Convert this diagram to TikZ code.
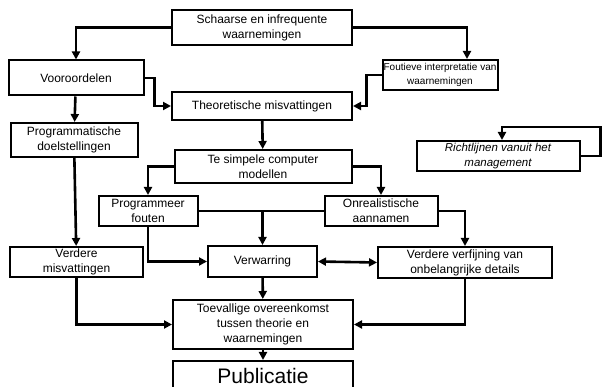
\documentclass[tikz,border=0pt]{standalone}
\usepackage{fontspec}
\setmainfont{Liberation Sans}
\usetikzlibrary{arrows.meta}

\begin{document}
\begin{tikzpicture}[x=1pt,y=-1pt,
    box/.style={draw,line width=2pt,align=center,inner sep=1pt,
      font=\fontsize{12}{15}\selectfont},
    flow/.style={line width=2.6pt,-{Triangle[length=8pt,width=8pt]}},
    twoway/.style={line width=2.6pt,{Triangle[length=8pt,width=8pt]}-{Triangle[length=8pt,width=8pt]}},
    plain/.style={line width=2.6pt}]
        \useasboundingbox (0,0) rectangle (603,387);
        % top row
        \node[box,minimum width=180,minimum height=35] (schaars) at (262,27.5) {Schaarse en infrequente\\waarnemingen};
        \node[box,minimum width=135,minimum height=35] (voor) at (76,78) {Vooroordelen};
        \node[box,minimum width=115,minimum height=30,inner sep=0pt,font=\fontsize{10}{14}\selectfont] (fout) at (440,75) {Foutieve interpretatie van\\waarnemingen};
        \node[box,minimum width=180,minimum height=28] (theo) at (262,106) {Theoretische misvattingen};
        % middle
        \node[box,minimum width=127,minimum height=34] (progdoel) at (74,140) {Programmatische\\doelstellingen};
        \node[box,minimum width=177,minimum height=33] (simpel) at (263,166.5) {Te simpele computer\\modellen};
        \node[box,minimum width=163,minimum height=30,font=\fontsize{11.5}{15}\selectfont\itshape] (richt) at (498,156) {Richtlijnen vanuit het\\management};
        \node[box,minimum width=99,minimum height=30] (prog) at (148,211) {Programmeer\\fouten};
        \node[box,minimum width=113,minimum height=30] (onreal) at (381,211) {Onrealistische\\aannamen};
        \node[box,minimum width=133,minimum height=30] (misv) at (76.5,262) {Verdere\\misvattingen};
        \node[box,minimum width=109,minimum height=31] (verw) at (262.5,261.5) {Verwarring};
        \node[box,minimum width=174,minimum height=31] (verf) at (465,262.5) {Verdere verfijning van\\onbelangrijke details};
        % bottom
        \node[box,minimum width=180,minimum height=49] (toev) at (263,324.5) {Toevallige overeenkomst\\tussen theorie en\\waarnemingen};
        \node[box,minimum width=180,minimum height=30,font=\fontsize{21}{24}\selectfont] (publ) at (263,376) {Publicatie};
        \coordinate (junc) at (verw.north |- prog.east);
        % connectors
        \draw[flow] (schaars.west) -| (voor.north);
        \draw[flow] (schaars.east) -| ([xshift=27]fout.north);
        \draw[flow] (voor.east) -- ++(10,0) |- (theo.west);
        \draw[flow] (fout.west) -- ++(-15,0) |- (theo.east);
        \draw[flow] (voor) -- (progdoel);
        \draw[flow] (progdoel) -- (misv);
        \draw[flow] (theo) -- (simpel);
        \draw[flow] (simpel.west) -| (prog.north);
        \draw[flow] (simpel.east) -| (onreal.north);
        \draw[flow] (richt.east) -- ++(20,0) -- ++(0,-29) -| ([xshift=4]richt.north);
        \draw[plain] (prog.east) -- (onreal.west);
        \draw[flow] (junc) -- (verw.north);
        \draw[flow] (prog.south) |- (verw.west);
        \draw[flow] (onreal.east) -| (verf.north);
        \draw[twoway] (verw.east) -- (verf.west);
        \draw[flow] (misv.south) |- (toev.west);
        \draw[flow] (verf.south) |- (toev.east);
        \draw[flow] (verw) -- (toev);
        \draw[flow] (toev) -- (publ);
\end{tikzpicture}
\end{document}
